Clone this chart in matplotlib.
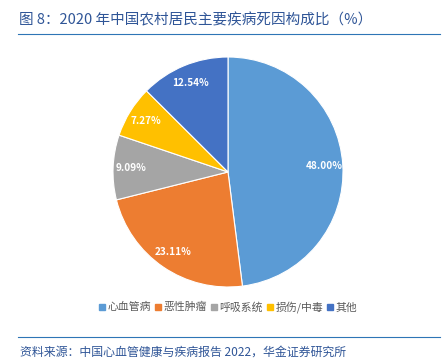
import matplotlib.pyplot as plt
from matplotlib.lines import Line2D

plt.rcParams['font.family'] = ['Noto Sans CJK SC', 'DejaVu Sans']

# 2020年中国农村居民主要疾病死因构成比（%）
categories = ['心血管病', '恶性肿瘤', '呼吸系统', '损伤/中毒', '其他']
values = [48.00, 23.11, 9.09, 7.27, 12.54]
colors = ['#5B9BD5', '#ED7D31', '#A5A5A5', '#FFC000', '#4472C4']

fig = plt.figure(figsize=(4.46, 3.63), dpi=100)

# 饼图
ax = fig.add_axes([(228 - 115) / 446, 1 - (172 + 115) / 363, 230 / 446, 230 / 363])
wedges, texts, autotexts = ax.pie(
    values, colors=colors, startangle=90, counterclock=False,
    autopct='%.2f%%', pctdistance=0.84,
    wedgeprops=dict(edgecolor='white', linewidth=0.8))
for t in autotexts:
    t.set_color('white')
    t.set_fontsize(7.2)
    t.set_fontweight('bold')
ax.set_xlim(-1.0, 1.0)
ax.set_ylim(-1.0, 1.0)
ax.set_aspect('equal')

# 图例
handles = [Line2D([], [], marker='s', linestyle='none', markersize=4.5,
                  markerfacecolor=c, markeredgecolor=c) for c in colors]
fig.legend(handles, categories, loc='center', bbox_to_anchor=(228 / 446, 1 - 307 / 363),
           ncol=5, frameon=False, fontsize=7.8, handlelength=0.6, handletextpad=0.25,
           columnspacing=0.3, labelcolor='#595959')

# 标题和来源
title_color = '#2F5597'
fig.text(19 / 446, 1 - 20 / 363, '图 8：2020 年中国农村居民主要疾病死因构成比（%）',
         fontsize=10.5, color=title_color, va='center', ha='left')
fig.add_artist(Line2D([18 / 446, 440 / 446], [1 - 34 / 363, 1 - 34 / 363],
                      color='#2E75B6', linewidth=0.8))
fig.add_artist(Line2D([18 / 446, 440 / 446], [1 - 337 / 363, 1 - 337 / 363],
                      color='#2E75B6', linewidth=0.8))
fig.text(20 / 446, 1 - 352 / 363, '资料来源：中国心血管健康与疾病报告 2022，华金证券研究所',
         fontsize=8.6, color=title_color, va='center', ha='left', style='italic')

fig.savefig('out.png', dpi=100)
